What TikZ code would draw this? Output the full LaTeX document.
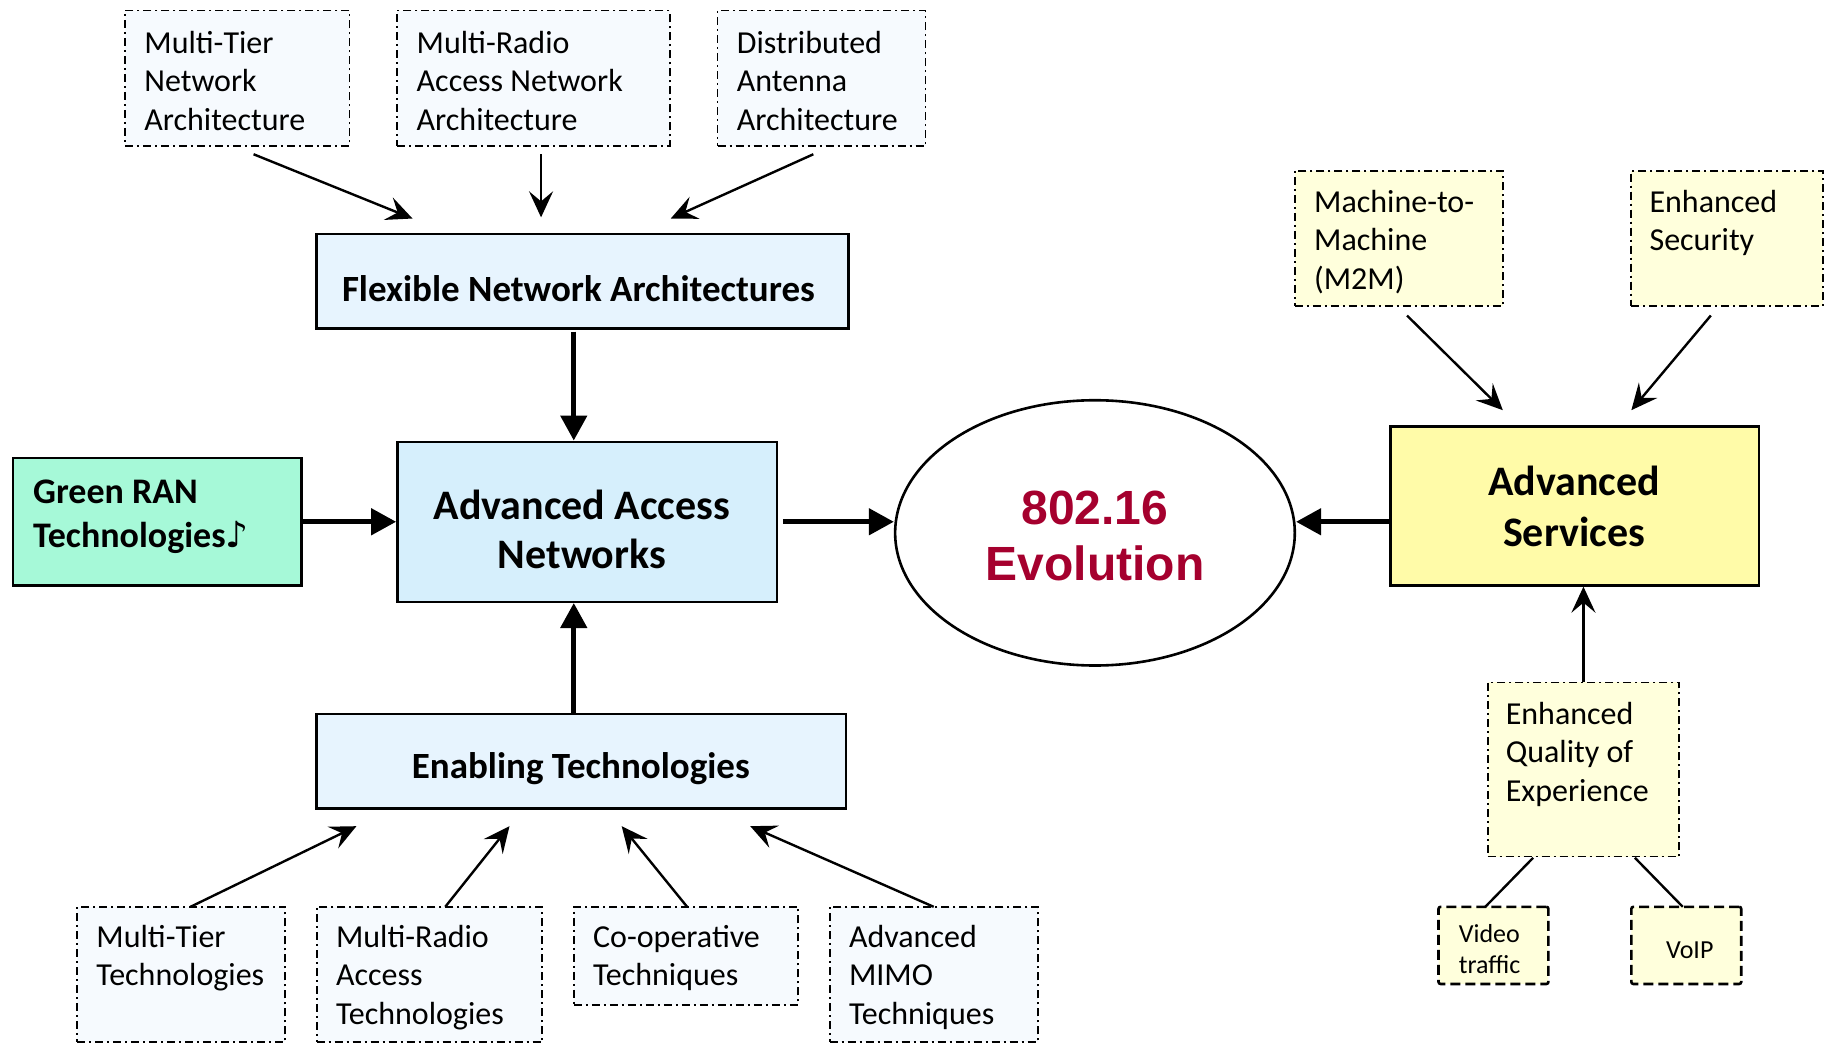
\documentclass[tikz,border=0pt]{standalone}
\usepackage{fontspec}
\setmainfont{Carlito}
\newfontfamily\arialfont{Liberation Sans}
\newfontfamily\djv{DejaVu Sans}
\usetikzlibrary{arrows.meta,fit,calc,shapes.geometric}
\definecolor{paleblue}{HTML}{F6FAFE}
\definecolor{lightblue}{HTML}{E7F4FE}
\definecolor{accblue}{HTML}{D6EFFC}
\definecolor{greenfill}{HTML}{A6F9D8}
\definecolor{servyellow}{HTML}{FFFBA8}
\definecolor{paleyellow}{HTML}{FFFFDC}
\definecolor{evored}{HTML}{A5002E}
\begin{document}
\begin{tikzpicture}[x=0.5843pt,y=-0.5843pt,
  ddbox/.style={draw, line width=0.9pt, inner sep=0pt, dash pattern=on 4pt off 2pt on 1pt off 2pt, fill=paleblue},
  ddyel/.style={ddbox, fill=paleyellow},
  dashbox/.style={draw, line width=1.3pt, dash pattern=on 5pt off 2.5pt, fill=paleyellow, rounded corners=1pt, inner sep=0pt},
  solidbox/.style={draw, line width=1.2pt, inner sep=0pt},
  txt/.style={inner sep=0pt, align=left, anchor=north west, font=\fontsize{16}{19.3}\selectfont},
  smalltxt/.style={inner sep=0pt, align=left, font=\fontsize{13}{15.5}\selectfont},
  boldtxt/.style={inner sep=0pt, align=center, font=\bfseries\fontsize{18.5}{22}\selectfont},
  bigtxt/.style={inner sep=0pt, align=center, font=\bfseries\fontsize{21}{25}\selectfont},
  thinarrow/.style={-{Stealth[length=13pt,width=12pt,inset=5pt]}, line width=1.2pt},
  thickarrow/.style={-{Triangle[length=12.5pt,width=13pt]}, line width=2.4pt},
  plainline/.style={line width=1.2pt}
]
\useasboundingbox (0,0) rectangle (1566,894.2);

% ---- top row (architectures)
\node[ddbox, fit={(107,9)(299,125)}] (t1) {};
\node[txt] (t1t) at ($(t1.north west)+(17,18)$) {Multi-Tier\\Network\\Architecture};
\node[ddbox, fit={(340,9)(573,125)}] (t2) {};
\node[txt] (t2t) at ($(t2.north west)+(17,18)$) {Multi-Radio\\Access Network\\Architecture};
\node[ddbox, fit={(614,9)(792,125)}] (t3) {};
\node[txt] (t3t) at ($(t3.north west)+(17,18)$) {Distributed\\Antenna\\Architecture};

% ---- main boxes
\node[solidbox, fill=lightblue, fit={(271,200)(726,281)}] (flex) {};
\node[boldtxt] (flext) at (495,247) {Flexible Network Architectures};
\node[solidbox, fill=accblue, fit={(340,378)(665,515)}] (acc) {};
\node[bigtxt, font=\bfseries\fontsize{21}{24.5}\selectfont] (acct) at (498,453) {Advanced Access\\Networks};
\node[solidbox, fill=greenfill, fit={(11,392)(258,501)}] (green) {};
\node[inner sep=0pt, anchor=west, align=left, font=\bfseries\fontsize{18}{22.2}\selectfont] (greent) at (28,442) {Green RAN\\Technologies{\djv\bfseries ♪}};
\node[solidbox, fill=lightblue, fit={(271,611)(724,692)}] (en) {};
\node[boldtxt] (ent) at (497,658) {Enabling Technologies};

\node[draw, ellipse, line width=1.3pt, minimum width=342*0.5843pt, minimum height=227*0.5843pt, inner sep=0pt] (evo) at (937,456) {};
\node[inner sep=0pt, align=center, text=evored, font=\arialfont\bfseries\fontsize{24}{28}\selectfont] (evot) at (937,459) {802.16\\Evolution};

\node[solidbox, fill=servyellow, fit={(1190,365)(1505,501)}] (serv) {};
\node[bigtxt, font=\bfseries\fontsize{21}{25.5}\selectfont] (servt) at (1347,433) {Advanced\\Services};

% ---- services side
\node[ddyel, fit={(1108,146)(1286,262)}] (m2m) {};
\node[txt] (m2mt) at ($(m2m.north west)+(17,17)$) {Machine-to-\\Machine\\(M2M)};
\node[ddyel, fit={(1396,146)(1560,262)}] (sec) {};
\node[txt] (sect) at ($(sec.north west)+(16,17)$) {Enhanced\\Security};
\node[ddyel, fit={(1273,584)(1437,733)}] (qoe) {};
\node[txt] (qoet) at ($(qoe.north west)+(16,17)$) {Enhanced\\Quality of\\Experience};
\node[dashbox, fit={(1231,776)(1325,842)}] (video) {};
\node[smalltxt, anchor=west] (videot) at (1248,812) {Video\\traffic};
\node[dashbox, fit={(1396,776)(1490,842)}] (voip) {};
\node[smalltxt] (voipt) at (1446,813) {VoIP};

% ---- bottom row (technologies)
\node[ddbox, fit={(66,776)(244,892)}] (b1) {};
\node[txt] (b1t) at ($(b1.north west)+(17,16)$) {Multi-Tier\\Technologies};
\node[ddbox, fit={(271,776)(464,892)}] (b2) {};
\node[txt] (b2t) at ($(b2.north west)+(17,16)$) {Multi-Radio\\Access\\Technologies};
\node[ddbox, fit={(491,776)(683,860)}] (b3) {};
\node[txt] (b3t) at ($(b3.north west)+(17,16)$) {Co-operative\\Techniques};
\node[ddbox, fit={(710,776)(888,892)}] (b4) {};
\node[txt] (b4t) at ($(b4.north west)+(17,16)$) {Advanced\\MIMO\\Techniques};

% ---- named free ends
\coordinate (a1s) at (217,132); \coordinate (a1e) at (353,187);
\coordinate (a2s) at (463,132); \coordinate (a2e) at (463,186);
\coordinate (a3s) at (696,132); \coordinate (a3e) at (574,187);
\coordinate (a4s) at (1204,270); \coordinate (a4e) at (1286,351);
\coordinate (a5s) at (1464,270); \coordinate (a5e) at (1396,351);
\coordinate (c1s) at (163,776); \coordinate (c1e) at (305,707);
\coordinate (c2s) at (381,776); \coordinate (c2e) at (436,707);
\coordinate (c3s) at (588,776); \coordinate (c3e) at (532,707);
\coordinate (c4s) at (799,776); \coordinate (c4e) at (642,707);
\coordinate (ax) at (491,0);
\coordinate (q1s) at (1312,734); \coordinate (q1e) at (1271,776);
\coordinate (q2s) at (1399,734); \coordinate (q2e) at (1440,776);

% ---- thin arrows
\draw[thinarrow] (a1s) -- (a1e);
\draw[thinarrow] (a2s) -- (a2e);
\draw[thinarrow] (a3s) -- (a3e);
\draw[thinarrow] (a4s) -- (a4e);
\draw[thinarrow] (a5s) -- (a5e);
\draw[thinarrow] (c1s) -- (c1e);
\draw[thinarrow] (c2s) -- (c2e);
\draw[thinarrow] (c3s) -- (c3e);
\draw[thinarrow] (c4s) -- (c4e);
\draw[thinarrow] (qoe.north) -- (qoe.north |- serv.south);
\draw[plainline] (q1s) -- (q1e);
\draw[plainline] (q2s) -- (q2e);

% ---- thick arrows
\draw[thickarrow, shorten <=1pt] (flex.south -| ax) -- (acc.north -| ax);
\draw[thickarrow] (en.north -| ax) -- (acc.south -| ax);
\draw[thickarrow] (green.east) -- (acc.west);
\draw[thickarrow, shorten <=2.3pt] (acc.east) -- (evo.west |- acc.east);
\draw[thickarrow] (serv.west |- acc.east) -- (evo.east |- acc.east);
\end{tikzpicture}
\end{document}
